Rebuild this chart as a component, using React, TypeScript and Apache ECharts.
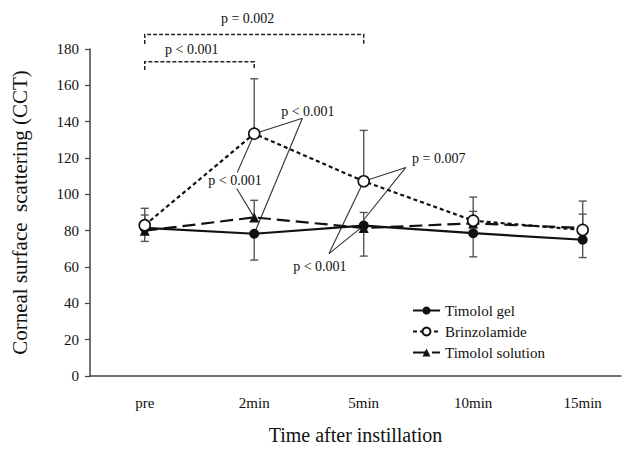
import React, { useEffect, useRef } from "react";
import * as echarts from "echarts";

const categories = ["pre", "2min", "5min", "10min", "15min"];
const yMin = 0;
const yMax = 180;
const yInterval = 20;

const timololGel = [81.5, 78.3, 82.8, 78.6, 75];
const timololGelLower = [74.1, 63.8, 66, 65.6, 65.2];
const brinzolamide = [83, 133.4, 107.2, 85.5, 80.4];
const brinzolamideUpper = [92.3, 163.6, 135.2, 98.5, 96.3];
const timololSolution = [80, 87.3, 81.5, 84, 81.5];
const timololSolutionUpper = [88.6, 96.7, 90, 90.6, 89.1];

// significance brackets
const bracketFrom = [0, 0];
const bracketTo = [2, 1];
const bracketLevel = [188, 173];
const bracketEnd = [182.7, 168.4];
const bracketLabels = ["p = 0.002", "p < 0.001"];
const bracketLabelX = [0.94, 0.43];
const bracketLabelY = [196.8, 179.8];

// leader annotations (data coords)
const leaderLabels = ["p < 0.001", "p < 0.001", "p = 0.007", "p < 0.001"];
const leaderLabelPos = [
  [1.49, 145.8],
  [0.825, 107.8],
  [2.685, 119.5],
  [1.6, 60.5],
];
const leaderSegments = [
  [[[1.44, 141.9], [1, 133.4]], [[1.44, 141.9], [1, 78.3]]],
  [[[1, 133.4], [0.845, 112.0]], [[0.84, 103.2], [1, 87.3]]],
  [[[2.385, 114.8], [2, 107.2]], [[2.385, 114.8], [2, 86.0]]],
  [[[1.683, 67.4], [2, 107.2]], [[1.683, 67.4], [2, 82.8]]],
];

const FONT = "'Liberation Serif', 'Times New Roman', serif";

function errorSeries(name: string, means: number[], ends: number[]) {
  return {
    name: name + "-err",
    type: "custom",
    z: 1,
    silent: true,
    data: means.map((m, i) => [i, m, ends[i]]),
    renderItem: (params: any, api: any) => {
      const x = api.value(0);
      const p1 = api.coord([x, api.value(1)]);
      const p2 = api.coord([x, api.value(2)]);
      const style = { stroke: "#555", lineWidth: 1.4 };
      return {
        type: "group",
        children: [
          { type: "line", shape: { x1: p1[0], y1: p1[1], x2: p2[0], y2: p2[1] }, style },
          { type: "line", shape: { x1: p2[0] - 4, y1: p2[1], x2: p2[0] + 4, y2: p2[1] }, style },
        ],
      };
    },
  };
}

export default function App() {
  const ref = useRef<HTMLDivElement>(null);
  useEffect(() => {
    if (!ref.current) return;
    const chart = echarts.init(ref.current, undefined, { renderer: "svg" });
    const toPts = (arr: number[]) => arr.map((v, i) => [i, v]);
    chart.setOption({
      animation: false,
      backgroundColor: "#fff",
      textStyle: { fontFamily: FONT, color: "#111" },
      grid: { left: 90, right: 9, top: 49, bottom: 69 },
      legend: {
        orient: "vertical",
        left: 407,
        top: 298,
        itemWidth: 27,
        itemHeight: 10,
        itemGap: 6,
        textStyle: { fontFamily: FONT, fontSize: 15, color: "#111" },
        data: ["Timolol gel", "Brinzolamide", "Timolol solution"],
      },
      xAxis: {
        type: "value",
        min: -0.5,
        max: 4.35,
        splitLine: { show: false },
        axisTick: { show: false },
        axisLine: { onZero: false, lineStyle: { color: "#444", width: 1.5 } },
        axisLabel: {
          customValues: [0, 1, 2, 3, 4],
          formatter: (v: number) => categories[Math.round(v)] ?? "",
          fontFamily: FONT,
          fontSize: 15,
          color: "#111",
          margin: 19,
        },
        name: "Time after instillation",
        nameLocation: "middle",
        nameGap: 49,
        nameTextStyle: { fontFamily: FONT, fontSize: 20, color: "#111" },
      },
      yAxis: {
        type: "value",
        min: yMin,
        max: yMax,
        interval: yInterval,
        splitLine: { show: false },
        axisLine: { show: true, onZero: false, lineStyle: { color: "#444", width: 1.5 } },
        axisTick: { show: true, inside: false, length: 5, lineStyle: { color: "#444", width: 1.2 } },
        axisLabel: { fontFamily: FONT, fontSize: 15, color: "#111", margin: 11 },
        name: "Corneal surface  scattering (CCT)",
        nameLocation: "middle",
        nameGap: 60,
        nameTextStyle: { fontFamily: FONT, fontSize: 21, color: "#111" },
      },
      series: [
        errorSeries("Timolol gel", timololGel, timololGelLower),
        errorSeries("Brinzolamide", brinzolamide, brinzolamideUpper),
        errorSeries("Timolol solution", timololSolution, timololSolutionUpper),
        {
          name: "Timolol solution",
          type: "line",
          z: 3,
          data: toPts(timololSolution),
          symbol: "triangle",
          symbolSize: 10,
          itemStyle: { color: "#111" },
          lineStyle: { color: "#111", width: 2.2, type: [13, 6] },
        },
        {
          name: "Timolol gel",
          type: "line",
          z: 4,
          data: toPts(timololGel),
          symbol: "circle",
          symbolSize: 10,
          itemStyle: { color: "#111" },
          lineStyle: { color: "#111", width: 2.2 },
        },
        {
          name: "Brinzolamide",
          type: "line",
          z: 5,
          data: toPts(brinzolamide),
          symbol: "circle",
          symbolSize: 11,
          itemStyle: { color: "#fff", borderColor: "#111", borderWidth: 1.6 },
          lineStyle: { color: "#111", width: 2.2, type: [4, 3] },
        },
      ],
    });

    const px = (p: number[]) => chart.convertToPixel({ gridIndex: 0 }, p) as number[];
    const graphics: any[] = [];
    const textStyle = (text: string) => ({
      text,
      fontFamily: FONT,
      fontSize: 14,
      fill: "#111",
      align: "center",
      verticalAlign: "middle",
    });
    bracketLabels.forEach((label, i) => {
      const a = px([bracketFrom[i], bracketLevel[i]]);
      const b = px([bracketTo[i], bracketLevel[i]]);
      const a2 = px([bracketFrom[i], bracketEnd[i]]);
      const b2 = px([bracketTo[i], bracketEnd[i]]);
      graphics.push({
        type: "polyline",
        shape: { points: [a2, a, b, b2] },
        style: { stroke: "#222", lineWidth: 1.5, lineDash: [4, 2], fill: null },
      });
      const t = px([bracketLabelX[i], bracketLabelY[i]]);
      graphics.push({ type: "text", x: t[0], y: t[1], style: textStyle(label) });
    });
    leaderLabels.forEach((label, i) => {
      const t = px(leaderLabelPos[i]);
      graphics.push({ type: "text", x: t[0], y: t[1], style: textStyle(label) });
      leaderSegments[i].forEach((seg) => {
        const p1 = px(seg[0]);
        const p2 = px(seg[1]);
        graphics.push({
          type: "line",
          shape: { x1: p1[0], y1: p1[1], x2: p2[0], y2: p2[1] },
          style: { stroke: "#333", lineWidth: 1.1 },
        });
      });
    });
    chart.setOption({ graphic: graphics });

    return () => chart.dispose();
  }, []);
  return <div ref={ref} style={{ width: 630, height: 450, position: "absolute", left: 0, top: 0 }} />;
}
